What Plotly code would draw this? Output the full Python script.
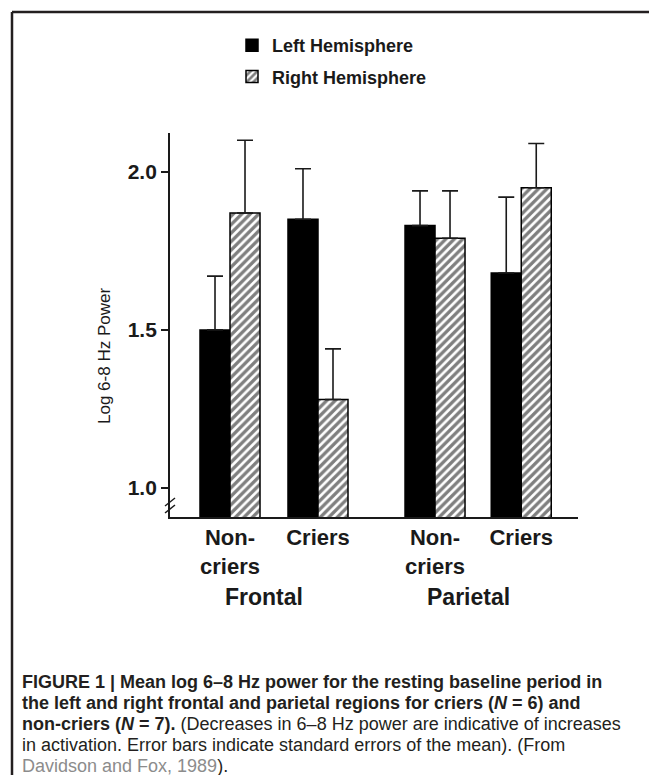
import plotly.graph_objects as go

# ---- data ----
groups = ["Non-<br>criers", "Criers", "Non-<br>criers", "Criers"]
regions = ["Frontal", "Parietal"]
left_means = [1.50, 1.85, 1.83, 1.68]
left_se = [0.17, 0.16, 0.11, 0.24]
right_means = [1.87, 1.28, 1.79, 1.95]
right_se = [0.23, 0.16, 0.15, 0.14]
series_names = ["Left Hemisphere", "Right Hemisphere"]
y_ticks = [1.0, 1.5, 2.0]
y_tick_text = ["1.0", "1.5", "2.0"]

# ---- layout helpers (positions, not data) ----
group_pos = [0, 1, 2.33, 3.31]
bar_w = 0.341
PAGE_OFF = 8                      # default body margin of the html page
W, H = 657 - PAGE_OFF, 775 - PAGE_OFF
ML, MR, MT, MB = 162, 79, 125, 258
PW, PH = W - ML - MR, H - MT - MB


def px(x):
    """page pixel x -> paper x"""
    return (x - PAGE_OFF - ML) / PW


def py(y):
    """page pixel y -> paper y"""
    return (H - MB - (y - PAGE_OFF)) / PH


ink = "#1a1a1a"
font_main = "Liberation Sans, Arial, sans-serif"

fig = go.Figure()
fig.add_trace(go.Bar(
    x=group_pos, y=left_means, name=series_names[0], legendgroup="L",
    offset=-bar_w, width=bar_w,
    marker=dict(color="black", line=dict(color="black", width=1.5)),
    error_y=dict(type="data", array=left_se, arrayminus=[0] * 4, symmetric=False,
                 color=ink, thickness=1.6, width=8),
))
fig.add_trace(go.Bar(
    x=group_pos, y=right_means, name=series_names[1], legendgroup="R",
    offset=0, width=bar_w,
    marker=dict(color="white", line=dict(color="black", width=1.5),
                pattern=dict(shape="/", fgcolor="black", bgcolor="white",
                             size=6, solidity=0.55)),
    error_y=dict(type="data", array=right_se, arrayminus=[0] * 4, symmetric=False,
                 color=ink, thickness=1.6, width=8),
))

fig.update_layout(
    width=W, height=H,
    margin=dict(l=ML, r=MR, t=MT, b=MB),
    paper_bgcolor="white", plot_bgcolor="white",
    barmode="overlay",
    showlegend=True,
    legend=dict(x=px(232), y=py(27), xanchor="left", yanchor="top",
                font=dict(family=font_main, size=18, color=ink, weight="bold"),
                bgcolor="rgba(0,0,0,0)", traceorder="grouped", tracegroupgap=5,
                itemclick=False),
    font=dict(family=font_main, color=ink),
)
fig.update_xaxes(
    range=[-0.682, 3.955], showgrid=False, zeroline=False,
    showline=True, linecolor=ink, linewidth=1.8,
    tickmode="array", tickvals=group_pos, ticktext=["<b>%s</b>" % g for g in groups],
    ticks="", tickfont=dict(family=font_main, size=22, color=ink),
)
fig.update_yaxes(
    range=[0.908, 2.123], showgrid=False, zeroline=False,
    showline=True, linecolor=ink, linewidth=1.8,
    tickmode="array", tickvals=y_ticks, ticktext=["<b>%s</b>" % t for t in y_tick_text],
    ticks="outside", ticklen=7, tickwidth=1.6, tickcolor=ink,
    tickfont=dict(family=font_main, size=21, color=ink),
)

ann = []
# region labels
for i, r in enumerate(regions):
    cx = (group_pos[2 * i] + group_pos[2 * i + 1]) / 2
    ann.append(dict(x=cx, y=py(597), xref="x", yref="paper", xshift=-10,
                    xanchor="center", yanchor="middle",
                    text="<b>%s</b>" % r, showarrow=False,
                    font=dict(family=font_main, size=23, color=ink)))
# y title
ann.append(dict(x=px(104), y=py(356), xref="paper", yref="paper",
                xanchor="center", yanchor="middle",
                text="Log 6-8 Hz Power", textangle=-90, showarrow=False,
                font=dict(family=font_main, size=17, color=ink)))

# caption
cap_lines = [
    "<b>FIGURE 1 | Mean log 6–8 Hz power for the resting baseline period in</b>",
    "<b>the left and right frontal and parietal regions for criers (<i>N</i> = 6) and</b>",
    "<b>non-criers (<i>N</i> = 7).</b> (Decreases in 6–8 Hz power are indicative of increases",
    "in activation. Error bars indicate standard errors of the mean). (From",
    "<span style='color:#8c8c8c'>Davidson and Fox, 1989</span>).",
]
for i, line in enumerate(cap_lines):
    ann.append(dict(x=px(20), y=py(682 + 21 * i), xref="paper", yref="paper",
                    xanchor="left", yanchor="middle", text=line, showarrow=False,
                    font=dict(family=font_main, size=18, color="#231f20")))
fig.update_layout(annotations=ann)

shapes = []
# frame (top and left border)
shapes.append(dict(type="line", xref="paper", yref="paper",
                   x0=px(12), x1=px(680), y0=py(12), y1=py(12),
                   line=dict(color="#231f20", width=2.5)))
shapes.append(dict(type="line", xref="paper", yref="paper",
                   x0=px(12), x1=px(12), y0=py(12), y1=py(800),
                   line=dict(color="#231f20", width=2.5)))
# axis break marks
for y0 in (506, 513):
    shapes.append(dict(type="line", xref="paper", yref="paper",
                       x0=px(165), x1=px(175), y0=py(y0), y1=py(y0 - 8),
                       line=dict(color=ink, width=1.5)))
fig.update_layout(shapes=shapes)

fig.write_html("out.html")
